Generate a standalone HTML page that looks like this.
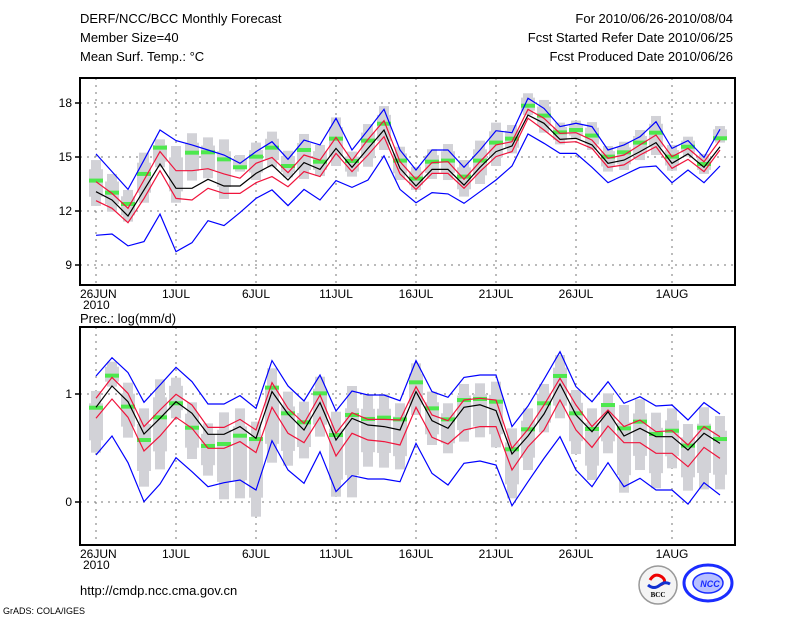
<!DOCTYPE html>
<html><head><meta charset="utf-8">
<style>
html,body{margin:0;padding:0;background:#fff;}
svg{display:block;font-family:"Liberation Sans",sans-serif;}
</style></head>
<body>
<svg id="chart" width="800" height="618" viewBox="0 0 800 618" xmlns="http://www.w3.org/2000/svg">
<rect width="800" height="618" fill="#fff"/>
<g font-size="13" fill="#000">
<text x="80" y="23">DERF/NCC/BCC Monthly Forecast</text>
<text x="80" y="42">Member Size=40</text>
<text x="80" y="61">Mean Surf. Temp.: °C</text>
<text x="733" y="23" text-anchor="end">For 2010/06/26-2010/08/04</text>
<text x="733" y="42" text-anchor="end">Fcst Started Refer Date 2010/06/25</text>
<text x="733" y="61" text-anchor="end">Fcst Produced Date 2010/06/26</text>
<text x="80" y="323">Prec.: log(mm/d)</text>
<text x="80" y="595">http://cmdp.ncc.cma.gov.cn</text>
<text x="3" y="614" font-size="9">GrADS: COLA/IGES</text>
</g>
<g id="top"></g>
<g id="bot"></g>
<g>
<circle cx="658" cy="585" r="19" fill="#f4f4f4" stroke="#999" stroke-width="1.5"/>
<path d="M650 580 q5 -8 12 -3 q6 5 -2 8" fill="none" stroke="#e00" stroke-width="3"/>
<path d="M648 585 q6 5 12 0 q5 -4 10 -1" fill="none" stroke="#1030d0" stroke-width="3"/>
<text x="658" y="597" font-size="7" font-weight="bold" text-anchor="middle" font-family="Liberation Serif,serif">BCC</text>
</g>
<g>
<ellipse cx="708" cy="583" rx="24" ry="18" fill="#fff" stroke="#1a2cff" stroke-width="3"/>
<ellipse cx="708" cy="583" rx="15" ry="10" fill="#b8c0ff" stroke="#1a2cff" stroke-width="1.5"/>
<text x="710" y="587" font-size="9" font-weight="bold" font-style="italic" fill="#1a2cff" text-anchor="middle">NCC</text>
</g>
</svg>
<script>
// ---- temperature data (°C) ----
const tMean=[13.07,12.61,11.72,13.17,14.61,13.26,13.26,13.76,13.39,13.39,14.09,14.56,13.72,14.69,14.31,15.48,14.43,15.48,16.5,14.37,13.39,14.31,14.31,13.44,14.43,15.3,15.61,17.33,16.87,15.98,16.04,15.67,14.65,14.83,15.3,15.8,14.65,15.17,14.43,15.57];
const tRedHi=[13.63,12.98,12.15,13.72,15.3,14.24,14.24,14.35,14.06,13.82,14.65,14.98,14.13,15.11,14.83,16.09,14.8,15.98,17.02,14.74,13.76,14.69,14.74,13.76,14.74,15.67,15.85,17.65,17.15,16.31,16.35,15.94,14.93,15.11,15.67,16.22,15.02,15.48,14.74,15.94];
const tRedLo=[12.57,12.15,11.35,12.7,14.24,12.7,12.61,13.26,12.98,12.98,13.57,13.91,13.35,14.19,13.91,15.2,14.19,15.11,16.13,14.06,13.2,14.09,14.09,13.26,14.19,15.02,15.3,17.15,16.5,15.8,15.85,15.48,14.43,14.56,15.11,15.57,14.37,14.87,14.19,15.39];
const tBlueHi=[15.17,14.19,13.2,14.83,16.5,15.91,15.67,15.39,15.11,14.65,15.3,15.85,14.87,15.94,15.67,17.15,15.39,16.5,17.65,15.39,14.28,15.39,15.39,14.43,15.39,16.46,16.35,18.26,17.7,16.69,16.87,16.69,15.39,15.67,16.13,16.96,15.48,15.91,14.98,16.54];
const tBlueLo=[10.65,10.72,10.06,10.3,11.83,9.74,10.24,11.46,11.19,11.91,12.7,13.17,12.3,13.2,12.61,13.69,13.31,13.72,15.06,13.2,12.46,13.02,12.95,12.43,13.07,13.72,14.5,16.28,15.76,15.2,15.2,14.43,13.57,14.0,14.43,14.5,13.57,14.28,13.57,14.5];
const tGreen=[13.69,13.02,12.39,14.06,15.52,null,15.24,15.26,14.87,14.43,15.02,15.52,14.5,15.39,14.74,16.02,14.78,15.91,16.85,14.8,13.8,14.74,14.8,13.91,14.8,15.8,16.02,17.85,17.3,16.37,16.5,16.19,15.02,15.26,15.8,16.35,15.02,15.57,14.61,16.04];
const tBarHi=[14.83,14.06,13.17,15.24,15.98,15.61,16.32,16.09,15.98,15.11,15.8,16.41,15.35,16.28,15.67,17.2,15.3,16.83,17.83,15.57,14.46,15.43,15.72,14.83,15.91,16.91,16.78,18.54,18.17,16.91,17.02,16.94,15.61,15.85,16.5,17.28,15.67,16.13,15.17,16.72];
const tBarLo=[12.28,11.96,11.41,12.46,14.43,12.46,13.69,13.82,12.67,14.19,13.72,14.43,13.87,13.78,13.94,14.5,13.91,14.46,15.39,13.72,13.17,13.78,13.72,12.8,13.5,14.5,15.2,17.33,16.35,15.7,15.98,15.39,14.19,14.28,14.83,15.11,14.24,15.02,14.06,15.8];
const tTicks=[9,12,15,18];
// ---- precipitation data log(mm/d) ----
const pMean=[.877,1.074,.929,.63,.775,.929,.821,.627,.627,.698,.59,1.022,.815,.667,.92,.574,.775,.713,.698,.667,1.022,.753,.682,.877,.9,.846,.444,.611,.815,1.093,.806,.651,.836,.611,.682,.605,.605,.481,.636,.543];
const pRedHi=[.96,1.154,1.006,.698,.852,.997,.898,.691,.691,.765,.667,1.105,.867,.728,.991,.636,.827,.765,.765,.759,1.068,.806,.753,.944,.96,.944,.497,.673,.898,1.145,.898,.698,.852,.698,.759,.651,.66,.528,.698,.605];
const pRedLo=[.775,.954,.784,.472,.611,.784,.682,.497,.497,.559,.457,.877,.636,.549,.784,.426,.636,.574,.559,.528,.877,.599,.537,.667,.698,.698,.296,.512,.667,.944,.667,.506,.704,.549,.549,.451,.451,.327,.506,.404];
const pBlueHi=[1.167,1.336,1.198,.923,1.083,1.247,1.114,.907,.907,.985,.867,1.309,1.074,.935,1.176,.843,1.028,.991,.991,.938,1.309,1.022,.969,1.154,1.176,1.176,.698,.889,1.136,1.392,1.068,.929,1.114,.914,.975,.889,.898,.759,.92,.815];
const pBlueLo=[.435,.611,.364,.003,.167,.41,.281,.142,.179,.204,.111,.568,.296,.173,.466,.096,.244,.213,.213,.188,.543,.265,.157,.358,.38,.343,-.034,.188,.404,.605,.296,.142,.364,.142,.219,.111,.111,-.019,.179,.065];
const pGreen=[.873,1.17,.883,.574,.784,.914,.688,.519,.537,.614,.583,1.059,.821,.738,1.006,.62,.806,.769,.781,.765,1.108,.867,.765,.944,.954,.929,.488,.673,.914,1.167,.821,.676,.898,.682,.744,.63,.66,.522,.688,.583];
const pBarHi=[1.028,1.299,1.105,.867,1.136,1.151,.923,.728,.83,.867,.744,1.238,1.022,.929,1.16,.836,1.074,.997,1.0,.914,1.284,1.022,.914,1.093,1.099,1.114,.682,.867,1.093,1.361,1.037,.867,1.006,.898,.951,.827,.867,.722,.877,.796];
const pBarLo=[.457,1.068,.596,.142,.302,.775,.398,.244,.025,.034,-.136,.364,.336,.404,.605,.049,.043,.327,.318,.302,.806,.528,.451,.559,.599,.506,.034,.296,.645,.775,.444,.204,.451,.086,.296,.127,.312,.105,.117,.117];
const pTicks=[0,1];
const dateLabels=["26JUN","1JUL","6JUL","11JUL","16JUL","21JUL","26JUL","1AUG"];
const dateIdx=[0,5,10,15,20,25,30,36];

const NS="http://www.w3.org/2000/svg";
function mk(tag,attrs,parent){const e=document.createElementNS(NS,tag);for(const k in attrs)e.setAttribute(k,attrs[k]);parent.appendChild(e);return e;}
const xs=i=>96+16*i;

function panel(g,top,bottom,yOf,ticks,s,name){
  dateIdx.forEach(d=>{const l=mk('line',{x1:xs(d),x2:xs(d),y1:top,y2:bottom,stroke:'#777','stroke-width':1,'stroke-dasharray':'2,5'},g);
    
    });
  ticks.forEach(t=>{const y=yOf(t);
    const l=mk('line',{x1:80,x2:735,y1:y,y2:y,stroke:'#777','stroke-width':1,'stroke-dasharray':'2,5'},g);
    
    
    mk('line',{x1:75,x2:80,y1:y,y2:y,stroke:'#000','stroke-width':1.5},g);
    const tx=mk('text',{x:72,y:y+4,'font-size':12,'text-anchor':'end'},g);tx.textContent=t;
    
    
  });
  s.barHi.forEach((h,i)=>{const y1=yOf(h),y2=yOf(s.barLo[i]);
    const r=mk('rect',{x:xs(i)-5,y:y1,width:10,height:Math.max(1,y2-y1),fill:'#d2d2d7'},g);
    
    
    const h2=(y2-y1);
    const b=mk('rect',{x:xs(i)-7,y:y1+h2*0.2,width:14,height:Math.max(1,h2*0.6),fill:'#d2d2d7'},g);
    
    });
  s.green.forEach((v,i)=>{if(v===null)return;
    const r=mk('rect',{x:xs(i)-7,y:yOf(v)-2,width:14,height:4,fill:'#4de84d'},g);
    
    });
  const line=(arr,col,nm)=>{const p=mk('polyline',{points:arr.map((v,i)=>xs(i)+','+yOf(v).toFixed(1)).join(' '),fill:'none',stroke:col,'stroke-width':1.2},g);
    
    };
  line(s.blueHi,'#0000ff','blue-upper-line');line(s.blueLo,'#0000ff','blue-lower-line');
  line(s.redHi,'#f0143c','red-upper-line');line(s.redLo,'#f0143c','red-lower-line');
  line(s.mean,'#000','ensemble-mean-line');
  const fr=mk('rect',{x:80,y:top,width:655,height:bottom-top,fill:'none',stroke:'#000','stroke-width':2},g);
  
  
  dateIdx.forEach((d,k)=>{const t=mk('text',{x:xs(d)-(k==0?16:0),y:bottom+13,'font-size':12,'text-anchor':k==0?'start':'middle'},g);t.textContent=dateLabels[k];
    
    });
  const yr=mk('text',{x:83,y:bottom+24,'font-size':12},g);yr.textContent='2010';
  
  
}
panel(document.getElementById('top'),78,285,v=>103+(18-v)*18,tTicks,
  {mean:tMean,redHi:tRedHi,redLo:tRedLo,blueHi:tBlueHi,blueLo:tBlueLo,green:tGreen,barHi:tBarHi,barLo:tBarLo},'temperature');
panel(document.getElementById('bot'),327,545,v=>502-v*108,pTicks,
  {mean:pMean,redHi:pRedHi,redLo:pRedLo,blueHi:pBlueHi,blueLo:pBlueLo,green:pGreen,barHi:pBarHi,barLo:pBarLo},'precipitation');
</script>
</body></html>
